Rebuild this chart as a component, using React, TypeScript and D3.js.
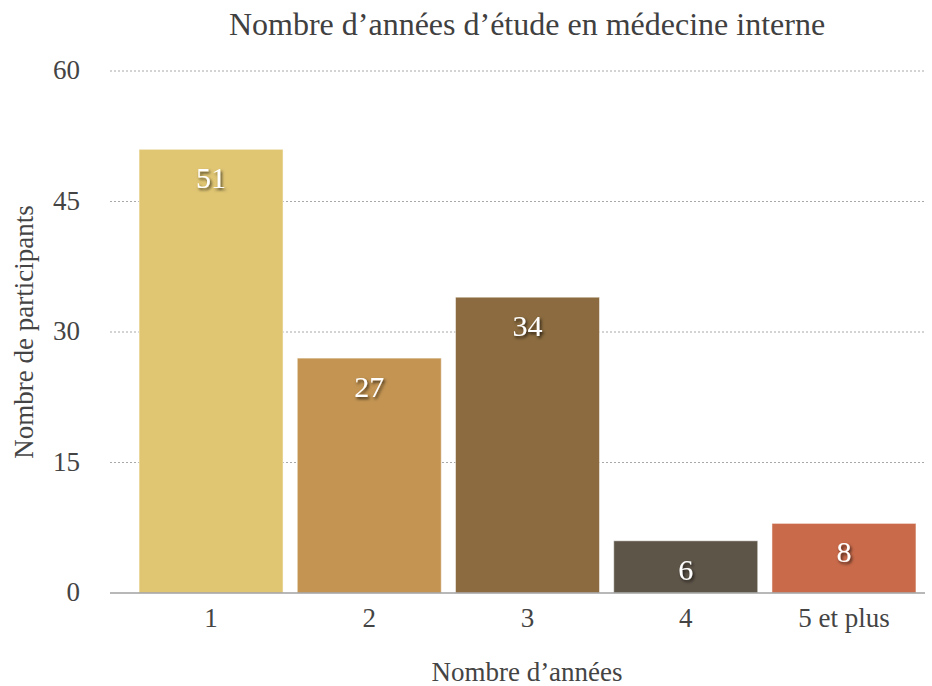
import React, { useEffect, useRef } from 'react';
import * as d3 from 'd3';

const categories = ['1', '2', '3', '4', '5 et plus'];
const values = [51, 27, 34, 6, 8];
const colors = ['#E0C673', '#C39452', '#8B6B3F', '#5E5549', '#C96A4A'];
const yTicks = [0, 15, 30, 45, 60];

const W = 932, H = 686;
const font = "'Liberation Serif', 'Times New Roman', serif";

export default function App() {
  const ref = useRef<SVGSVGElement>(null);

  useEffect(() => {
    const svg = d3.select(ref.current);
    svg.selectAll('*').remove();

    const x = d3.scaleBand<string>().domain(categories).range([124.8, 930.2]).padding(0.09);
    const y = d3.scaleLinear().domain([0, 60]).range([593, 71]);

    const defs = svg.append('defs');
    const f = defs.append('filter').attr('id', 'shadow').attr('x', '-20%').attr('y', '-20%').attr('width', '150%').attr('height', '150%');
    f.append('feDropShadow').attr('dx', 1.5).attr('dy', 2).attr('stdDeviation', 1.5).attr('flood-color', '#000').attr('flood-opacity', 0.7);

    // title
    svg.append('text')
      .attr('x', 527).attr('y', 35)
      .attr('text-anchor', 'middle')
      .style('font-family', font).attr('font-size', 32).attr('fill', '#404040')
      .text('Nombre d\u2019années d\u2019étude en médecine interne');

    // grid
    svg.append('g').selectAll('line')
      .data(yTicks.filter(d => d > 0))
      .enter().append('line')
      .attr('x1', 110).attr('x2', 925)
      .attr('y1', d => y(d)).attr('y2', d => y(d))
      .attr('stroke', '#a8a8a8').attr('stroke-width', 1).attr('stroke-dasharray', '2,2');

    // y tick labels
    svg.append('g').selectAll('text')
      .data(yTicks)
      .enter().append('text')
      .attr('x', 80).attr('y', d => y(d) + 8)
      .attr('text-anchor', 'end')
      .style('font-family', font).attr('font-size', 27).attr('fill', '#444')
      .text(d => d);

    // bars
    const bars = svg.append('g').selectAll('g')
      .data(categories)
      .enter().append('g');

    bars.append('rect')
      .attr('x', d => x(d)!)
      .attr('y', (d, i) => y(values[i]))
      .attr('width', x.bandwidth())
      .attr('height', (d, i) => y(0) - y(values[i]))
      .attr('fill', (d, i) => colors[i])
      .attr('stroke', 'rgba(255,255,255,0.5)').attr('stroke-width', 1);

    bars.append('text')
      .attr('x', d => x(d)! + x.bandwidth() / 2)
      .attr('y', (d, i) => y(values[i]) + 39)
      .attr('text-anchor', 'middle')
      .style('font-family', font).attr('font-size', 30).attr('fill', '#fff')
      .attr('filter', 'url(#shadow)')
      .text((d, i) => values[i]);

    // x axis line
    svg.append('line')
      .attr('x1', 110).attr('x2', 925)
      .attr('y1', y(0)).attr('y2', y(0))
      .attr('stroke', '#a0a0a0').attr('stroke-width', 1.5);

    // x tick labels
    svg.append('g').selectAll('text')
      .data(categories)
      .enter().append('text')
      .attr('x', d => x(d)! + x.bandwidth() / 2)
      .attr('y', 627)
      .attr('text-anchor', 'middle')
      .style('font-family', font).attr('font-size', 27).attr('fill', '#444')
      .text(d => d);

    // axis titles
    svg.append('text')
      .attr('x', 527).attr('y', 681)
      .attr('text-anchor', 'middle')
      .style('font-family', font).attr('font-size', 27).attr('fill', '#444')
      .text('Nombre d\u2019années');

    svg.append('text')
      .attr('transform', 'translate(33,332) rotate(-90)')
      .attr('text-anchor', 'middle')
      .style('font-family', font).attr('font-size', 27).attr('fill', '#444')
      .text('Nombre de participants');
  }, []);

  return (
    <svg ref={ref} width={W} height={H} style={{ position: 'absolute', left: 0, top: 0, background: '#fff' }} />
  );
}
